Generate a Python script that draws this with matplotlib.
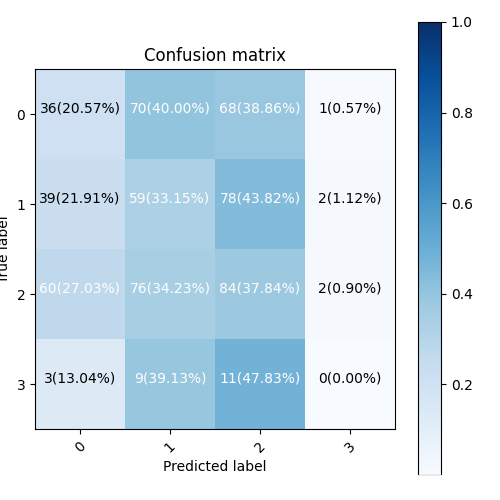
import numpy as np
import matplotlib
matplotlib.use("Agg")
import matplotlib.pyplot as plt
from matplotlib.patches import Rectangle

classes = ["0", "1", "2", "3"]
counts = np.array([
    [36, 70, 68, 1],
    [39, 59, 78, 2],
    [60, 76, 84, 2],
    [3, 9, 11, 0],
])

norm = counts / counts.sum(axis=1, keepdims=True)

fig = plt.figure(figsize=(5, 5), dpi=100)
ax = fig.add_axes([0.068, 0.142, 0.724, 0.72])
cax = fig.add_axes([0.836, 0.05, 0.046, 0.906])

im = ax.imshow(norm, interpolation="nearest", cmap=plt.cm.Blues, vmin=0, vmax=1)
ax.set_title("Confusion matrix")
cb = fig.colorbar(im, cax=cax)
cb.set_ticks([0.2, 0.4, 0.6, 0.8, 1.0])

ticks = np.arange(len(classes))
ax.set_xticks(ticks)
ax.set_xticklabels(classes, rotation=45)
ax.set_yticks(ticks)
ax.set_yticklabels(classes)

thresh = norm.max() / 2.0
for i in range(counts.shape[0]):
    for j in range(counts.shape[1]):
        ax.annotate("%d(%.2f%%)" % (counts[i, j], norm[i, j] * 100),
                    xy=(j, i), xytext=(0, 3.6), textcoords="offset points",
                    ha="center", va="center",
                    color="white" if norm[i, j] > thresh else "black")

ax.set_ylabel("True label")
ax.set_xlabel("Predicted label")

# white overlay strip seen at the bottom-right of the reference
fig.patches.append(Rectangle((0.516, 0.006), 0.472, 0.044, transform=fig.transFigure,
                             facecolor="white", edgecolor="none", alpha=0.92, zorder=10))

fig.savefig("out.png", dpi=100)
